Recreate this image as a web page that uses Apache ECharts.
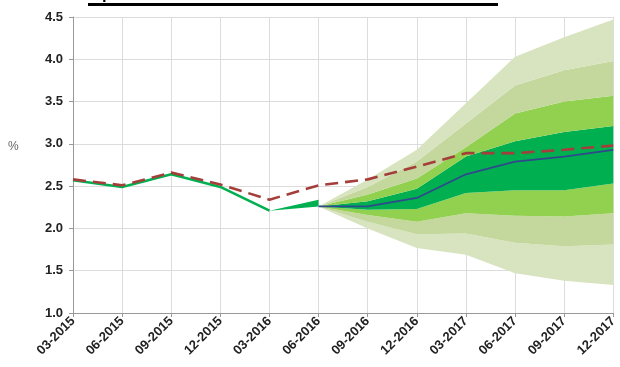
<!DOCTYPE html>
<html>
<head>
<meta charset="utf-8">
<script src="https://cdn.jsdelivr.net/npm/echarts@6/dist/echarts.min.js"></script>
<style>
  html, body { margin: 0; padding: 0; background: #fff; }
  #chart { width: 620px; height: 367px; }
</style>
</head>
<body>
<div id="chart"></div>
<script>
// קטגוריות ציר הזמן
var categories = ["03-2015", "06-2015", "09-2015", "12-2015", "03-2016", "06-2016",
  "09-2016", "12-2016", "03-2017", "06-2017", "09-2017", "12-2017"];
var yTicks = [1.0, 1.5, 2.0, 2.5, 3.0, 3.5, 4.0, 4.5];

// בפועל
var actual = [2.57, 2.49, 2.64, 2.49, 2.21, null, null, null, null, null, null, null];
var wedgeLow = [null, null, null, null, 2.21, 2.26, null, null, null, null, null, null];
var wedgeHigh = [null, null, null, null, 2.21, 2.34, null, null, null, null, null, null];
// תחזית קודמת (מקווקו)
var prevForecast = [2.58, 2.51, 2.66, 2.52, 2.34, 2.51, 2.58, 2.73, 2.89, 2.89, 2.93, 2.98];
// תחזית מרכזית
var median = [null, null, null, null, null, 2.26, 2.26, 2.36, 2.64, 2.79, 2.85, 2.93];

// גבולות המניפה
var outerLow  = [null, null, null, null, null, 2.26, 2.00, 1.77, 1.69, 1.47, 1.38, 1.33];
var midLow    = [null, null, null, null, null, 2.26, 2.08, 1.93, 1.94, 1.83, 1.79, 1.81];
var innerLow  = [null, null, null, null, null, 2.26, 2.16, 2.08, 2.18, 2.15, 2.14, 2.18];
var coreLow   = [null, null, null, null, null, 2.26, 2.22, 2.23, 2.42, 2.45, 2.45, 2.53];
var coreHigh  = [null, null, null, null, null, 2.26, 2.32, 2.47, 2.85, 3.03, 3.14, 3.21];
var innerHigh = [null, null, null, null, null, 2.26, 2.40, 2.59, 2.96, 3.36, 3.50, 3.57];
var midHigh   = [null, null, null, null, null, 2.26, 2.49, 2.79, 3.24, 3.69, 3.87, 3.98];
var outerHigh = [null, null, null, null, null, 2.26, 2.58, 2.93, 3.48, 4.03, 4.26, 4.47];

var cLight = "#d8e4bf", cTan = "#c4d79d", cLightGreen = "#92d050", cDark = "#00b050";

function diff(a, b) {
  return a.map(function (v, i) { return v == null || b[i] == null ? "-" : +(v - b[i]).toFixed(3); });
}
function band(name, data, color, stack) {
  return {
    name: name, type: "line", stack: stack, data: data, symbol: "none",
    lineStyle: { width: 0 }, areaStyle: { color: color, opacity: 1 },
    itemStyle: { color: color }, silent: true, z: 1
  };
}

var fanLayers = [
  [outerLow.map(function (v) { return v == null ? "-" : v; }), "transparent"],
  [diff(midLow, outerLow), cLight],
  [diff(innerLow, midLow), cTan],
  [diff(coreLow, innerLow), cLightGreen],
  [diff(coreHigh, coreLow), cDark],
  [diff(innerHigh, coreHigh), cLightGreen],
  [diff(midHigh, innerHigh), cTan],
  [diff(outerHigh, midHigh), cLight]
];

var series = [];
fanLayers.forEach(function (l, i) {
  var s = band("fan" + i, l[0], l[1], "fan");
  if (i === 0) s.areaStyle = { opacity: 0 };
  series.push(s);
});
var w0 = band("w0", wedgeLow.map(function (v) { return v == null ? "-" : v; }), cDark, "wedge");
w0.areaStyle = { opacity: 0 };
series.push(w0);
series.push(band("w1", diff(wedgeHigh, wedgeLow), cDark, "wedge"));

series.push({
  name: "actual", type: "line", data: actual, symbol: "none", z: 3,
  lineStyle: { color: cDark, width: 2.5 }
});
series.push({
  name: "median", type: "line", data: median, symbol: "none", z: 4,
  lineStyle: { color: "#2e4a8c", width: 1.8 }
});
series.push({
  name: "prev", type: "line", data: prevForecast, symbol: "none", z: 5,
  lineStyle: { color: "#a43e3a", width: 2.6, type: [13, 7] }
});

var chart = echarts.init(document.getElementById("chart"));
chart.setOption({
  animation: false,
  grid: { left: 73, right: 2, top: 17, bottom: 54 },
  graphic: [
    {
      type: "text", left: 92, top: -14,
      style: { text: "תרשים 4: תחזית האינפלציה של חטיבת המחקר", font: "bold 17px Arial", fill: "#000" }
    },
    {
      type: "rect", shape: { x: 88, y: 3, width: 410, height: 3 }, style: { fill: "#000" }
    },
    {
      type: "text", left: 8, top: 141,
      style: { text: "%", font: "12px Arial", fill: "#666" }
    }
  ],
  xAxis: {
    type: "category", data: categories, boundaryGap: false,
    axisLine: { lineStyle: { color: "#999" } },
    axisTick: { show: true, length: 4, lineStyle: { color: "#999" } },
    axisLabel: { rotate: 45, color: "#222", fontWeight: "bold", fontSize: 13, fontFamily: "Arial", margin: 6, interval: 0 },
    splitLine: { show: true, lineStyle: { color: "#dcdcdc" } }
  },
  yAxis: {
    type: "value", min: yTicks[0], max: yTicks[yTicks.length - 1], interval: 0.5,
    axisLine: { show: true, lineStyle: { color: "#999" } },
    axisTick: { show: true, length: 4, lineStyle: { color: "#999" } },
    axisLabel: { color: "#222", fontWeight: "bold", fontSize: 13, fontFamily: "Arial", margin: 10,
      formatter: function (v) { return v.toFixed(1); } },
    splitLine: { lineStyle: { color: "#dcdcdc" } }
  },
  series: series
});
</script>
</body>
</html>
